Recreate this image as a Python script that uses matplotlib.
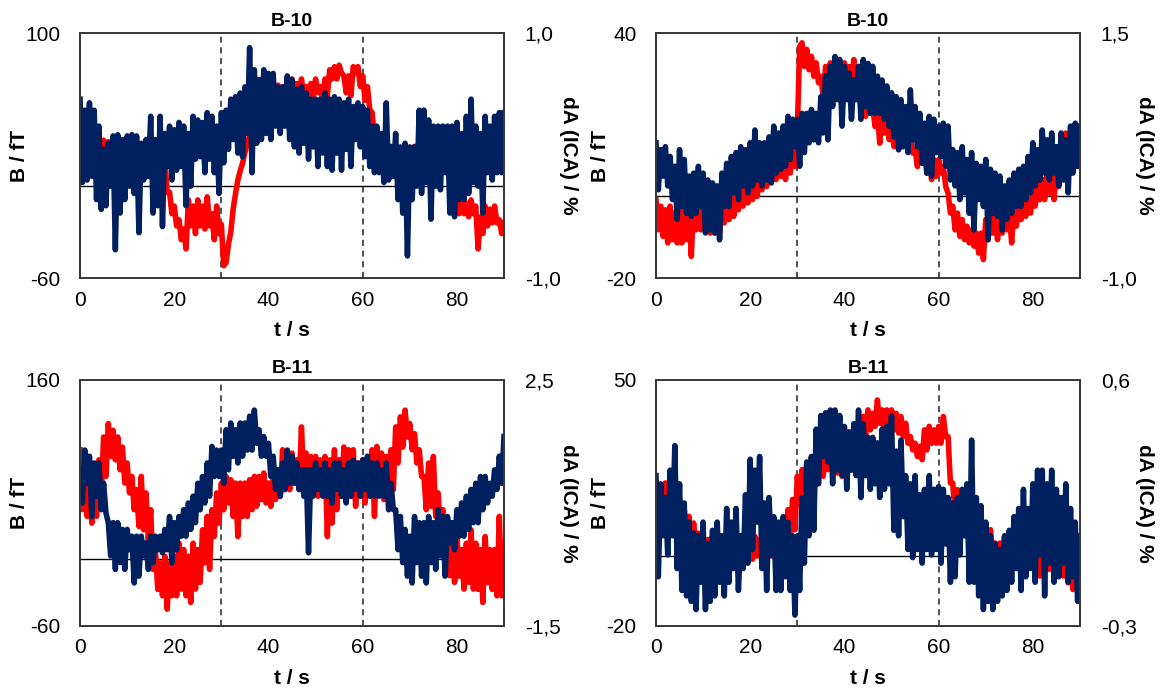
import numpy as np
import matplotlib
matplotlib.use('Agg')
import matplotlib.pyplot as plt

plt.rcParams['font.family'] = ['Liberation Sans', 'DejaVu Sans']

# traces, one value every 0.5 s from t = 0 to 90 s
dt = 0.5

# red: B / fT (left axis)
red_b10_a = [
    26, 19, 28, 22, 26, 19, 28, 19, 26, 17, 30, 24, 29, 22, 26, 17, 28, 19, 26, 19,
    28, 22, 26, 17, 28, 19, 26, 19, 28, 22, 26, 17, 24, 17, 22, 13, 17, -4, -4, -18,
    -13, -26, -22, -35, -28, -41, -9, -26, -13, -31, -9, -26, -13, -28, -7, -26, -18, -35, -13, -31,
    -25, -52, -50, -38, -30, -15, -5, 4, 10, 15, 22, 28, 33, 39, 45, 50, 48, 52, 50, 56,
    54, 61, 58, 63, 66, 62, 65, 61, 66, 62, 70, 61, 67, 56, 70, 59, 65, 56, 67, 59,
    70, 61, 65, 56, 70, 59, 76, 70, 78, 70, 79, 74, 72, 61, 72, 59, 78, 74, 78, 65,
    72, 56, 65, 50, 48, 30, 35, 26, 28, 22, 26, 19, 26, 22, 26, 19, 24, 19, 26, 19,
    24, 17, 26, 19, 24, 15, 24, 17, 22, 13, 24, 15, 19, 11, 22, 13, 15, 6, 4, -4,
    -4, -18, -9, -18, -11, -20, -9, -18, -13, -41, -20, -31, -13, -26, -15, -24, -13, -24, -22, -31,
    -24]
red_b10_b = [
    -0.8, -8.2, -2.4, -9.8, -3.3, -11.4, -2.4, -10.6, -4.0, -11.4, -3.3, -11.4, -0.8, -10.6, -4.0, -14.7, -0.8, -8.2, -2.4, -8.2,
    -1.6, -8.2, -2.4, -9.0, -2.4, -9.0, -2.4, -9.0, -1.6, -6.5, -2.4, -5.7, 0.0, -4.9, 0.8, -3.3, 1.6, -2.4, 2.4, -1.6,
    2.4, -0.8, 4.1, 0.0, 5.7, 1.6, 6.5, 2.4, 13.9, 4.1, 9.0, 4.1, 9.8, 4.9, 12.2, 4.1, 10.6, 5.7, 12.2, 7.3,
    16.0, 36.7, 37.6, 31.8, 36.0, 31.0, 34.3, 29.4, 32.7, 27.8, 29.4, 24.5, 31.8, 26.9, 32.7, 27.8, 31.8, 25.3, 31.8, 25.3,
    32.7, 26.1, 31.8, 26.9, 33.5, 27.8, 30.2, 22.0, 27.8, 19.6, 25.3, 20.4, 22.0, 17.1, 20.4, 13.0, 21.2, 15.5, 19.6, 13.9,
    17.1, 12.2, 15.5, 11.4, 16.3, 12.2, 14.7, 12.2, 14.7, 10.6, 11.4, 7.3, 13.9, 9.0, 10.6, 5.7, 9.8, 4.1, 9.0, 4.9,
    9.0, 5.7, 7.3, 2.4, 0.8, -4.1, -2.4, -8.2, -4.1, -9.8, -5.7, -10.6, -7.3, -11.4, -8.2, -12.2, -9.0, -13.9, -9.0, -15.5,
    -5.7, -10.6, -4.9, -9.0, -4.1, -10.6, -4.1, -9.0, -4.1, -8.2, -4.1, -11.4, -2.4, -7.3, -1.6, -5.7, -0.8, -4.9, 0.8, -4.1,
    2.4, -2.4, 4.1, -0.8, 4.1, -0.8, 5.7, 0.8, 4.9, -0.8, 7.3, 2.4, 11.4, 4.9, 15.5, 5.7, 13.9, 7.3, 12.2, 7.3,
    11.4]
red_b11_a = [
    97.6, 44, 73.8, 38, 79.7, 32, 67.8, 38, 88.6, 56, 109, 73.8, 121, 91.6, 115, 88.6, 109, 79.7, 100, 67.8,
    85.7, 59, 73.8, 44, 61.9, 29, 73.8, 26, 59, 17, 44, -9.4, 8.4, -27.3, -3.5, -33, 2.4, -45, -3.5, -33,
    2.4, -33, 14, -27, 8.4, -33, 2.4, -39, 14, -27, 8.4, -21, 26, -3.5, 38, -9.4, 44, 20, 59, 32,
    67.8, 44, 73.8, 50, 70.8, 38, 67.8, 20, 67.8, 38, 67.8, 38, 70.8, 44, 73.8, 47, 73.8, 53, 76.8, 50,
    67.8, 47, 70.8, 53, 73.8, 56, 97.6, 61.9, 91.6, 61.9, 94.6, 67.8, 88.6, 61.9, 118, 67.8, 94.6, 44, 91.6, 61.9,
    91.6, 56, 88.6, 59, 91.6, 20, 88.6, 32, 97.6, 44, 88.6, 56, 100, 61.9, 97.6, 56, 97.6, 47, 85.7, 56,
    88.6, 50, 88.6, 59, 97.6, 38, 100.5, 59, 94.6, 53, 91.6, 56, 97.6, 61.9, 118, 85.7, 127, 100, 133, 109,
    121, 97.6, 112, 85.7, 97.6, 73.8, 73.8, 44, 85.7, 47, 91.6, 38, 59, 26, 44, 2.4, 20, -15, 26, -21,
    20, -15.4, 8.4, -27, 14, -21, 26, -27, 14, -27.3, 8.4, -39, 20, -21.3, 8.4, -27.3, 8.4, -33, 38, -33,
    14]
red_b11_b = [
    20.7, 11.2, 18.8, 13.1, 20.7, 11.2, 18.8, 13.1, 17.9, 11.2, 16.0, 9.3, 13.1, 5.5, 11.2, 3.6, 9.3, 1.7, 6.4, -0.1,
    5.5, -2.0, 4.6, -1.0, 5.5, -2.0, 4.6, -2.0, 5.5, -1.0, 5.5, -2.0, 4.6, -1.0, 5.5, -2.0, 4.6, -1.0, 5.5, -2.0,
    5.5, -1.0, 5.5, -0.1, 4.6, -0.1, 5.5, 0.8, 6.4, -0.1, 9.3, 1.7, 7.4, 1.7, 9.3, 3.6, 13.1, 5.5, 16.0, 7.4,
    22.6, 15.0, 24.5, 18.8, 26.3, 20.7, 28.2, 22.6, 30.1, 22.6, 29.2, 22.6, 30.1, 24.5, 30.1, 24.5, 30.1, 23.5, 29.2, 22.6,
    30.1, 22.6, 32.0, 24.5, 33.9, 26.3, 37.7, 32.0, 39.6, 33.9, 41.5, 35.8, 40.5, 36.8, 44.3, 37.7, 41.5, 33.9, 41.5, 35.8,
    41.5, 35.8, 40.5, 34.9, 39.6, 33.9, 37.7, 32.0, 33.9, 30.1, 32.0, 28.2, 31.1, 27.3, 35.8, 30.1, 36.8, 32.0, 35.8, 32.0,
    36.8, 32.0, 39.6, 33.9, 33.9, 20.7, 20.7, 11.2, 18.8, 11.2, 16.9, 9.3, 15.0, 7.4, 15.0, 5.5, 13.1, 4.6, 11.2, 1.7,
    9.3, 1.7, 7.4, -0.1, 3.6, -0.1, 3.6, -0.1, 5.5, -0.1, 5.5, -2.0, 4.6, -1.0, 5.5, -2.0, 4.6, -1.0, 5.5, -2.0,
    1.7, -3.9, -0.1, -5.8, 1.7, -3.9, 3.6, -3.9, 1.7, -3.9, 1.7, -5.8, -0.1, -5.8, -2.0, -7.7, -0.1, -9.6, -2.0, -9.6,
    1.7]

# navy: dA (ICA) / % (right axis)
navy_b10_a = [
    0.46, -0.22, 0.37, -0.20, 0.43, -0.17, 0.37, -0.36, 0.24, -0.44, 0.05, -0.41, 0.10, -0.25, 0.16, -0.77, 0.17, -0.47, 0.13, -0.36,
    0.16, -0.25, 0.17, -0.31, 0.16, -0.63, 0.10, -0.20, 0.13, -0.17, 0.32, -0.47, 0.13, -0.41, 0.32, -0.58, 0.18, -0.09, 0.24, -0.20,
    0.21, -0.12, 0.27, -0.09, 0.24, -0.41, 0.18, -0.25, 0.32, -0.03, 0.29, -0.01, 0.27, -0.14, 0.35, -0.03, 0.32, -0.14, 0.24, -0.31,
    0.35, -0.06, 0.37, 0.05, 0.46, 0.13, 0.48, 0.02, 0.51, -0.01, 0.56, 0.18, 0.88, -0.14, 0.70, 0.10, 0.62, 0.13, 0.70, 0.18,
    0.67, 0.13, 0.67, 0.24, 0.56, 0.18, 0.56, 0.24, 0.65, 0.13, 0.62, 0.07, 0.54, 0.02, 0.56, 0.10, 0.51, -0.03, 0.46, 0.07,
    0.46, -0.09, 0.46, 0.02, 0.51, -0.09, 0.46, -0.12, 0.48, 0.02, 0.46, -0.12, 0.43, 0.05, 0.46, -0.09, 0.40, 0.13, 0.43, 0.07,
    0.40, -0.01, 0.37, -0.09, 0.24, -0.14, 0.24, -0.14, 0.18, -0.22, 0.43, -0.20, 0.07, -0.17, 0.18, -0.36, 0.07, -0.47, 0.10, -0.82,
    0.07, -0.36, 0.07, -0.25, 0.37, -0.31, 0.37, -0.22, 0.29, -0.52, 0.24, -0.25, 0.24, -0.28, 0.24, -0.14, 0.24, -0.47, 0.24, -0.50,
    0.27, -0.36, 0.18, -0.36, 0.32, -0.31, 0.46, -0.22, 0.24, -0.25, 0.18, -0.47, 0.32, -0.14, 0.24, -0.20, 0.32, -0.14, 0.35, -0.14,
    0.35]
navy_b10_b = [
    0.38, -0.10, 0.31, 0.04, 0.34, -0.06, 0.24, -0.20, 0.14, -0.40, 0.31, -0.27, 0.21, -0.34, 0.04, -0.37, 0.07, -0.34, 0.14, -0.27,
    0.07, -0.54, 0.00, -0.51, -0.03, -0.54, -0.06, -0.61, 0.07, -0.27, 0.17, -0.27, 0.24, -0.13, 0.28, -0.20, 0.34, -0.06, 0.31, -0.13,
    0.38, -0.06, 0.51, 0.00, 0.38, -0.06, 0.38, 0.00, 0.44, -0.03, 0.55, 0.07, 0.48, 0.11, 0.55, 0.14, 0.65, 0.21, 0.62, 0.34,
    0.62, 0.14, 0.68, 0.28, 0.68, 0.38, 0.72, 0.41, 0.68, 0.38, 0.85, 0.48, 1.06, 0.41, 1.16, 0.75, 1.26, 0.82, 1.23, 0.55,
    1.16, 0.82, 1.09, 0.62, 1.02, 0.82, 1.16, 0.62, 1.23, 0.75, 1.19, 0.68, 1.16, 0.68, 1.06, 0.68, 1.02, 0.62, 0.96, 0.55,
    0.89, 0.44, 0.85, 0.31, 0.82, 0.34, 0.75, 0.28, 0.92, 0.41, 0.75, 0.34, 0.68, 0.17, 0.58, 0.07, 0.65, 0.04, 0.62, 0.28,
    0.55, 0.24, 0.58, 0.14, 0.55, 0.00, 0.31, -0.06, 0.28, -0.20, 0.34, -0.13, 0.21, -0.34, 0.28, -0.51, 0.17, -0.20, 0.14, -0.27,
    0.21, -0.61, 0.11, -0.34, 0.07, -0.37, 0.04, -0.51, -0.06, -0.40, 0.00, -0.34, 0.07, -0.27, 0.11, -0.27, 0.14, -0.20, 0.24, -0.13,
    0.38, -0.06, 0.31, 0.00, 0.51, 0.07, 0.41, 0.00, 0.48, 0.07, 0.34, -0.06, 0.48, 0.00, 0.41, -0.13, 0.55, 0.07, 0.58, 0.14,
    0.55]
navy_b11_a = [
    1.04, 0.50, 1.36, 0.82, 1.26, 0.28, 1.15, 0.61, 1.15, 0.39, 0.82, 0.34, 0.18, -0.36, 0.18, -0.58, 0.18, -0.47, 0.07, -0.58,
    0.07, -0.26, -0.04, -0.80, -0.04, -0.69, -0.04, -0.36, -0.15, -0.58, -0.04, -0.47, -0.04, -0.26, -0.04, -0.31, 0.07, -0.26, 0.28, -0.47,
    0.18, -0.26, 0.28, -0.04, 0.39, -0.04, 0.50, 0.07, 0.61, 0.18, 0.82, 0.39, 0.93, 0.50, 1.15, 0.61, 1.42, 0.93, 1.36, 0.93,
    1.36, 0.82, 1.69, 1.04, 1.80, 1.26, 1.69, 1.15, 1.80, 1.26, 1.80, 1.36, 1.91, 1.36, 2.01, 1.47, 1.69, 1.26, 1.58, 1.26,
    1.47, 0.93, 1.26, 0.72, 1.04, 0.61, 1.15, 0.72, 1.36, 0.82, 1.26, 0.82, 1.15, 0.72, 1.04, 0.61, 1.04, -0.31, 1.04, 0.61,
    1.15, 0.72, 1.04, 0.61, 1.15, 0.61, 1.04, 0.50, 1.15, 0.72, 1.15, 0.61, 1.04, 0.50, 1.15, 0.61, 1.20, 0.72, 1.15, 0.61,
    1.20, 0.72, 1.26, 0.61, 1.15, 0.61, 1.15, 0.61, 1.04, 0.61, 1.15, 0.39, 0.82, 0.39, 0.39, -0.26, 0.28, -0.47, 0.07, -0.69,
    -0.04, -0.80, 0.28, -0.47, 0.18, -0.69, 0.18, -0.80, 0.28, -0.47, 0.18, -0.58, 0.39, -0.36, 0.28, -0.69, 0.28, -0.15, 0.18, -0.26,
    0.39, -0.04, 0.50, -0.04, 0.61, 0.07, 0.72, 0.18, 0.82, 0.18, 0.93, 0.39, 0.93, 0.50, 0.82, 0.61, 1.04, 0.72, 1.26, 0.82,
    1.58]
navy_b11_b = [
    0.25, -0.12, 0.22, 0.03, 0.17, -0.04, 0.27, 0.03, 0.36, -0.09, 0.22, -0.17, 0.15, -0.19, 0.08, -0.21, 0.04, -0.24, 0.03, -0.14,
    0.08, -0.24, 0.00, -0.21, 0.05, -0.19, 0.08, -0.14, 0.03, -0.19, 0.13, -0.14, 0.08, -0.09, 0.13, -0.17, 0.03, -0.09, 0.18, -0.07,
    0.31, -0.02, 0.27, 0.08, 0.32, -0.09, 0.15, -0.17, 0.17, -0.04, 0.10, -0.17, 0.08, -0.17, 0.10, -0.12, 0.08, -0.17, 0.03, -0.26,
    0.03, -0.17, 0.17, -0.07, 0.30, 0.03, 0.32, 0.05, 0.42, 0.22, 0.47, 0.32, 0.48, 0.30, 0.49, 0.22, 0.49, 0.27, 0.47, 0.25,
    0.43, 0.20, 0.41, 0.27, 0.44, 0.25, 0.49, 0.17, 0.44, 0.25, 0.39, 0.20, 0.39, 0.22, 0.37, 0.17, 0.42, 0.20, 0.43, 0.22,
    0.47, 0.05, 0.34, 0.03, 0.38, 0.10, 0.25, -0.02, 0.22, -0.05, 0.25, -0.02, 0.18, -0.07, 0.20, -0.02, 0.25, -0.04, 0.20, -0.02,
    0.21, -0.07, 0.20, 0.00, 0.17, -0.14, 0.15, -0.12, 0.17, -0.04, 0.20, 0.03, 0.22, -0.14, 0.38, -0.14, 0.17, -0.19, 0.14, -0.24,
    0.08, -0.21, 0.03, -0.24, 0.00, -0.21, -0.02, -0.19, 0.03, -0.17, 0.05, -0.14, 0.10, -0.09, 0.13, -0.17, 0.20, -0.12, 0.13, -0.09,
    0.22, -0.14, 0.27, -0.04, 0.27, -0.19, 0.22, -0.07, 0.27, -0.14, 0.20, -0.12, 0.17, -0.07, 0.22, -0.14, 0.13, -0.12, 0.08, -0.21,
    0.03]

titles = ['B-10', 'B-10', 'B-11', 'B-11']
reds = [red_b10_a, red_b10_b, red_b11_a, red_b11_b]
navys = [navy_b10_a, navy_b10_b, navy_b11_a, navy_b11_b]
b_lims = [(-60, 100), (-20, 40), (-60, 160), (-20, 50)]
da_lims = [(-1.0, 1.0), (-1.0, 1.5), (-1.5, 2.5), (-0.3, 0.6)]
xticks = [0, 20, 40, 60, 80]
marks = [30, 60]

# axes boxes in figure fractions
boxes = [[0.069, 0.600, 0.3655, 0.3525],
         [0.5655, 0.600, 0.3655, 0.3525],
         [0.069, 0.0993, 0.3655, 0.354],
         [0.5655, 0.0993, 0.3655, 0.354]]
lab_left = [-0.142, -0.132, -0.142, -0.132]

fig = plt.figure(figsize=(11.6, 6.95), dpi=100)
spine_col = '#3a3a3a'

for i in range(4):
    ax = fig.add_axes(boxes[i])
    ax2 = ax.twinx()

    ax.axhline(0, color='black', lw=1.0, zorder=1)
    for m in marks:
        ax.axvline(m, color='#222222', lw=1.1, ls=(0, (4, 3)), zorder=1)

    t = np.arange(len(reds[i])) * dt
    ax.plot(t, reds[i], color='#ff0000', lw=4.0, zorder=2)
    t2 = np.arange(len(navys[i])) * dt
    ax2.plot(t2, navys[i], color='#002060', lw=4.0)

    ax.set_xlim(0, 90)
    ax.set_ylim(*b_lims[i])
    ax2.set_ylim(*da_lims[i])

    ax.set_xticks(xticks)
    ax.set_yticks(list(b_lims[i]))
    ax.set_yticklabels([str(v) for v in b_lims[i]])
    ax2.set_yticks(list(da_lims[i]))
    ax2.set_yticklabels([f'{v:.1f}'.replace('.', ',') for v in da_lims[i]])

    ax.tick_params(axis='x', length=0, labelsize=15, pad=9)
    ax.tick_params(axis='y', length=0, labelsize=15, pad=14)
    ax2.tick_params(axis='y', length=0, labelsize=15, pad=15)

    for a in (ax, ax2):
        for s in a.spines.values():
            s.set_color(spine_col)
            s.set_linewidth(1.3)

    ax.set_title(titles[i], fontsize=14, fontweight='bold', pad=5)
    ax.set_xlabel('t / s', fontsize=15, fontweight='bold', va='center')
    ax.xaxis.set_label_coords(0.5, -0.215)
    ax.set_ylabel('B / fT', fontsize=15, fontweight='bold', va='center')
    ax.yaxis.set_label_coords(lab_left[i], 0.5)
    ax2.set_ylabel('dA (ICA) / %', fontsize=15, fontweight='bold',
                   rotation=270, va='center')
    ax2.yaxis.set_label_coords(1.152, 0.5)

fig.savefig('out.png', dpi=100)
print('finished')
